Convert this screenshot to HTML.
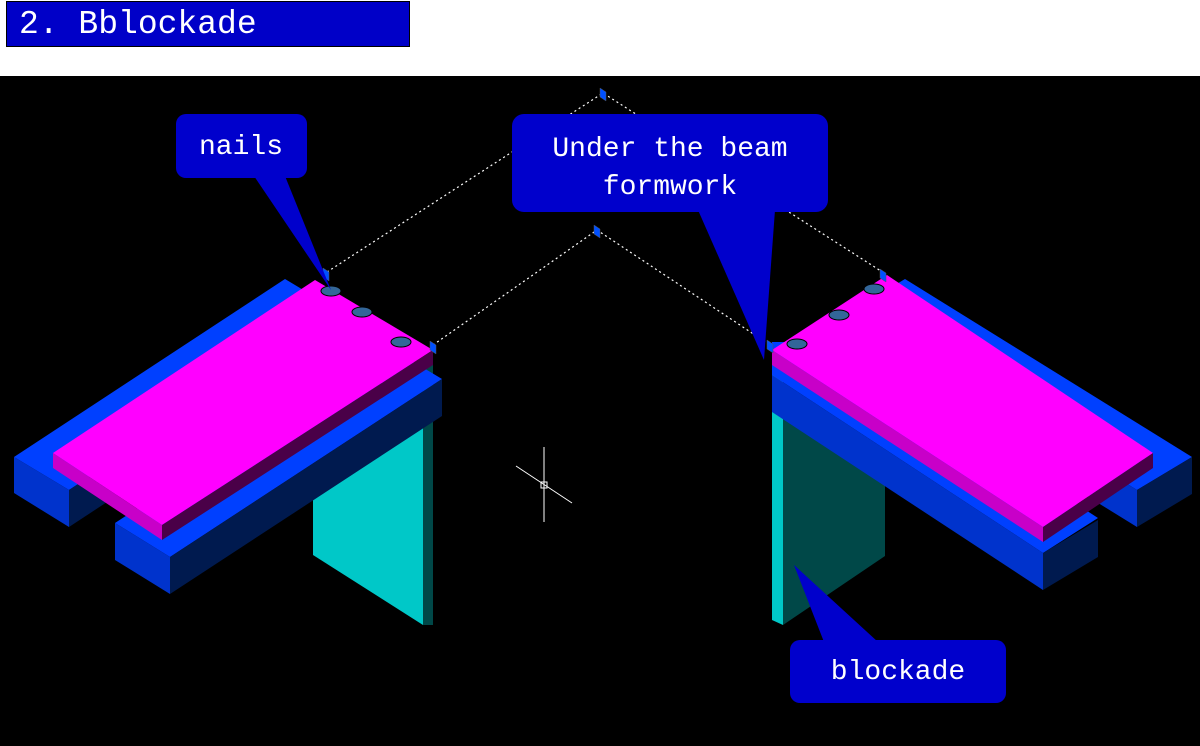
<!DOCTYPE html>
<html><head><style>
body{margin:0;width:1200px;height:746px;background:#fff;overflow:hidden;position:relative;font-family:"Liberation Mono","Noto Serif CJK SC",monospace}
#title{position:absolute;left:6px;top:1px;width:404px;height:46px;background:#0000c8;border:1px solid #000;color:#fff;font-size:33px;line-height:46px;padding-left:12px;box-sizing:border-box}
svg{position:absolute;left:0;top:76px}
</style></head><body>
<div id="title">2. Bblockade</div>
<svg width="1200" height="670" viewBox="0 76 1200 670">
<rect x="0" y="76" width="1200" height="670" fill="#000"/>
<g stroke="#fff" stroke-width="1.2" stroke-dasharray="2,3" fill="none">
<polyline points="327,272 603,93 884,273"/>
<polyline points="433,345 597,230 770,345"/>
</g>
<!-- left structure -->
<polygon points="313,497 423,427 423,625 313,555" fill="#00c8c8"/>
<polygon points="423,363 433,363 433,625 423,625" fill="#004848"/>
<polygon points="14,457 285,279 340,312 69,490" fill="#0040ff"/>
<polygon points="14,457 69,490 69,527 14,493" fill="#0033cc"/>
<polygon points="69,490 340,312 340,349 69,527" fill="#001a4f"/>
<polygon points="115,523 387,346 442,379 170,557" fill="#0040ff"/>
<polygon points="115,523 170,557 170,594 115,560" fill="#0033cc"/>
<polygon points="170,557 442,379 442,416 170,594" fill="#001a4f"/>
<polygon points="53,453 315,280 433,350 162,525" fill="#ff00ff"/>
<polygon points="53,453 162,525 162,540 53,468" fill="#c800c8"/>
<polygon points="162,525 433,350 433,365 162,540" fill="#4a0048"/>
<!-- right structure -->
<polygon points="783,412 885,478 885,556 783,625" fill="#004848"/>
<polygon points="772,365 783,365 783,625 772,620" fill="#00c8c8"/>
<polygon points="905,279 1192,457 1137,490 850,312" fill="#0040ff"/>
<polygon points="1137,490 1192,457 1192,494 1137,527" fill="#001a4f"/>
<polygon points="870,325 1137,490 1137,527 870,362" fill="#0033cc"/>
<polygon points="772,342 827,342 1098,518 1043,553 772,375" fill="#0040ff"/>
<polygon points="772,375 1043,553 1043,590 772,412" fill="#0033cc"/>
<polygon points="1043,553 1098,520 1098,557 1043,590" fill="#001a4f"/>
<polygon points="772,350 887,275 1153,453 1043,527" fill="#ff00ff"/>
<polygon points="772,350 1043,527 1043,542 772,365" fill="#c800c8"/>
<polygon points="1043,527 1153,453 1153,468 1043,542" fill="#4a0048"/>
<g fill="#336699" stroke="#000" stroke-width="1">
<ellipse cx="331" cy="291" rx="10" ry="5"/><ellipse cx="362" cy="312" rx="10" ry="5"/><ellipse cx="401" cy="342" rx="10" ry="5"/>
<ellipse cx="797" cy="344" rx="10" ry="5"/><ellipse cx="839" cy="315" rx="10" ry="5"/><ellipse cx="874" cy="289" rx="10" ry="5"/>
</g>
<!-- markers -->
<g fill="#0050ff" stroke="#555" stroke-width="0.5">
<polygon points="600,88 606,92 606,101 600,97"/><polygon points="594,225 600,229 600,238 594,234"/>
<polygon points="323,268 329,272 329,281 323,277"/><polygon points="430,341 436,345 436,354 430,350"/>
<polygon points="767,340 773,344 773,353 767,349"/><polygon points="880,269 886,273 886,282 880,278"/>
</g>
<!-- crosshair -->
<g stroke="#fff" stroke-width="1">
<line x1="544" y1="447" x2="544" y2="522"/><line x1="516" y1="466" x2="572" y2="503"/>
<rect x="541" y="482" width="6" height="6" fill="none"/>
</g>
<!-- callouts -->
<g fill="#0000cc">
<polygon points="254,176 285,176 331,290"/>
<rect x="176" y="114" width="131" height="64" rx="10"/>
<polygon points="698,210 775,210 764,360"/>
<rect x="512" y="114" width="316" height="98" rx="12"/>
<polygon points="824,642 878,642 794,565"/>
<rect x="790" y="640" width="216" height="63" rx="10"/>
</g>
<g fill="#fff" font-family="Liberation Mono, monospace" font-size="28" text-anchor="middle">
<text x="241" y="154">nails</text>
<text x="670" y="156">Under the beam</text>
<text x="670" y="194">formwork</text>
<text x="898" y="679">blockade</text>
</g>
</svg>
</body></html>
